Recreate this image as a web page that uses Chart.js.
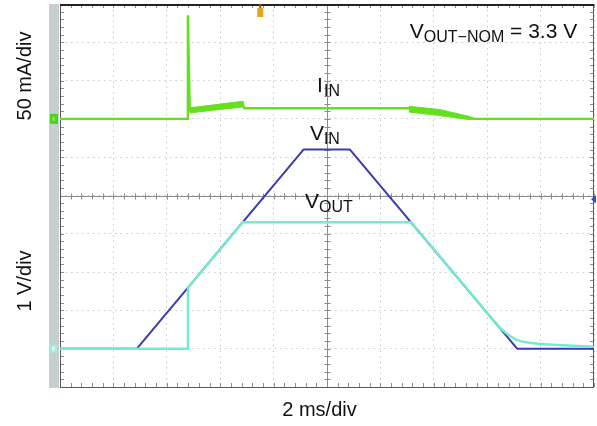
<!DOCTYPE html>
<html>
<head>
<meta charset="utf-8">
<title>Start-up and shut-down waveforms</title>
<style>
  html, body { margin: 0; padding: 0; background: #ffffff; }
  #wrap { width: 597px; height: 426px; position: relative; }
</style>
<script src="https://cdn.jsdelivr.net/npm/chart.js@4.4.1/dist/chart.umd.min.js"></script>
</head>
<body>
<div id="wrap"><canvas id="scope" width="597" height="426"></canvas></div>
<script>
// ---- Time base: 2 ms/div, 10 divisions ----
const TIME_MIN = 0, TIME_MAX = 20, TIME_PER_DIV = 2;
// ---- Voltage channels: 1 V/div, ground one division above the bottom ----
const V_MIN = -1, V_MAX = 9, V_PER_DIV = 1;
// ---- Current channel: 50 mA/div, ground three divisions below the top ----
const I_MIN = -350, I_MAX = 150;

// Input voltage ramp (ms, V)
const vinTime  = [0, 2.88, 9.12, 10.86, 17.12, 20];
const vinValue = [0, 0, 5.2, 5.2, 0, 0];

// Output voltage (ms, V)
const voutTime  = [0, 4.79, 4.79, 6.84, 13.16, 16.1, 16.3, 16.5, 16.7, 16.9, 17.1, 17.35, 17.6, 17.9, 18.3, 18.8, 19.4, 20];
const voutValue = [0, 0, 1.59, 3.3, 3.3, 0.85, 0.69, 0.53, 0.41, 0.31, 0.23, 0.18, 0.155, 0.13, 0.11, 0.09, 0.07, 0.055];

// Input current (ms, mA)
const iinTime  = [0, 4.76, 4.79, 4.86, 6.85, 6.9, 13.07, 15.5, 20];
const iinValue = [0, 0, 134, 11, 19, 14, 14, 0, 0];

// Input current ripple envelope while the converter ramps (ms, mA)
const rippleRiseTime  = [4.87, 6.85];
const rippleRiseUpper = [14.5, 23];
const rippleRiseLower = [8, 15.5];
const rippleFallTime  = [13.07, 14.2, 15.3, 15.5];
const rippleFallUpper = [16.5, 12.3, 3.5, 1];
const rippleFallLower = [9, 4.4, -0.8, -1];

// Scope reference markers
const triggerTime  = 7.5;   // ms
const triggerLevel = 3.9;   // V

// Trace annotations
const traceLabels = [
  { main: 'I', sub: 'IN',  t: 9.63, value: 35,   axis: 'yI' },
  { main: 'V', sub: 'IN',  t: 9.36, value: 5.45, axis: 'yV' },
  { main: 'V', sub: 'OUT', t: 9.18, value: 3.67, axis: 'yV' },
  { main: 'V', sub: 'OUT\u2212NOM', tail: ' = 3.3 V', t: 13.1, value: 8.11, axis: 'yV' }
];

const COLORS = {
  iin: '#64e01e',
  vin: '#3b3bae',
  vout: '#74ead0',
  grid: '#c8c8c8',
  cross: '#8c8c8c',
  frame: '#5a5a5a',
  strip: '#c6cfcf',
  text: '#111111'
};
const FONT = '"Liberation Sans", Arial, Helvetica, sans-serif';

const toPoints = (xs, ys) => xs.map((x, i) => ({ x, y: ys[i] }));
const toBand = (xs, up, lo) =>
  toPoints(xs, up).concat(toPoints(xs.slice().reverse(), lo.slice().reverse()));

// Graticule: grey channel strip, centre cross with minor ticks, frame ticks
const graticule = {
  id: 'graticule',
  beforeDatasetsDraw(chart) {
    const { ctx, chartArea: a, scales } = chart;
    const sx = scales.x, sy = scales.yV;
    ctx.save();
    ctx.fillStyle = COLORS.strip;
    ctx.fillRect(a.left - 11, a.top, 10, a.bottom - a.top + 1);

    const cx = Math.round(sx.getPixelForValue((TIME_MIN + TIME_MAX) / 2)) + 0.5;
    const cy = Math.round(sy.getPixelForValue((V_MIN + V_MAX) / 2)) + 0.5;
    ctx.strokeStyle = COLORS.cross;
    ctx.lineWidth = 1;
    ctx.beginPath();
    ctx.moveTo(a.left, cy); ctx.lineTo(a.right, cy);
    ctx.moveTo(cx, a.top); ctx.lineTo(cx, a.bottom);
    const nx = Math.round((TIME_MAX - TIME_MIN) / TIME_PER_DIV * 5);
    for (let i = 0; i <= nx; i++) {
      const px = Math.round(sx.getPixelForValue(TIME_MIN + i * TIME_PER_DIV / 5)) + 0.5;
      ctx.moveTo(px, cy - 3); ctx.lineTo(px, cy + 3);
      ctx.moveTo(px, a.top); ctx.lineTo(px, a.top + 4);
      ctx.moveTo(px, a.bottom); ctx.lineTo(px, a.bottom - 4);
    }
    const ny = Math.round((V_MAX - V_MIN) / V_PER_DIV * 5);
    for (let i = 0; i <= ny; i++) {
      const py = Math.round(sy.getPixelForValue(V_MIN + i * V_PER_DIV / 5)) + 0.5;
      ctx.moveTo(cx - 3, py); ctx.lineTo(cx + 3, py);
      ctx.moveTo(a.left, py); ctx.lineTo(a.left + 4, py);
      ctx.moveTo(a.right, py); ctx.lineTo(a.right - 4, py);
    }
    ctx.stroke();

    ctx.strokeStyle = COLORS.frame;
    ctx.strokeRect(a.left + 0.5, a.top + 0.5, a.right - a.left - 1, a.bottom - a.top);
    ctx.strokeStyle = '#222222';
    ctx.lineWidth = 2;
    ctx.beginPath();
    ctx.moveTo(a.left, a.top + 1); ctx.lineTo(a.right, a.top + 1);
    ctx.stroke();
    ctx.restore();
  }
};

// Channel ground markers, trigger markers and trace annotations
const scopeOverlay = {
  id: 'scopeOverlay',
  afterDatasetsDraw(chart) {
    const { ctx, chartArea: a, scales } = chart;
    ctx.save();
    // current channel ground
    const gI = scales.yI.getPixelForValue(0);
    ctx.fillStyle = '#4cd418';
    ctx.fillRect(a.left - 10, gI - 5, 8, 10);
    ctx.fillStyle = '#7ee25a';
    ctx.fillRect(a.left - 8, gI - 2, 3, 4);
    // voltage channel ground
    const gV = scales.yV.getPixelForValue(0);
    ctx.fillStyle = '#a4eed6';
    ctx.fillRect(a.left - 10, gV - 4, 7, 8);
    ctx.fillStyle = '#d4f8ec';
    ctx.fillRect(a.left - 8, gV - 2, 3, 4);
    // trigger position
    const tx = scales.x.getPixelForValue(triggerTime);
    ctx.fillStyle = '#7a5a10';
    ctx.fillRect(tx - 1, a.top, 2, 4);
    ctx.fillStyle = '#e8a21c';
    ctx.fillRect(tx - 3, a.top + 4, 6, 9);
    // trigger level
    const ty = scales.yV.getPixelForValue(triggerLevel);
    ctx.fillStyle = '#2d4fd0';
    ctx.beginPath();
    ctx.moveTo(a.right - 3, ty);
    ctx.lineTo(a.right + 2, ty - 4);
    ctx.lineTo(a.right + 2, ty + 4);
    ctx.closePath();
    ctx.fill();

    // annotations
    ctx.fillStyle = COLORS.text;
    ctx.textBaseline = 'alphabetic';
    ctx.textAlign = 'left';
    for (const lb of traceLabels) {
      let x = scales.x.getPixelForValue(lb.t);
      const y = scales[lb.axis].getPixelForValue(lb.value);
      ctx.font = '21px ' + FONT;
      ctx.fillText(lb.main, x, y);
      x += ctx.measureText(lb.main).width + (lb.main === 'I' ? 1 : 0);
      ctx.font = '16px ' + FONT;
      ctx.fillText(lb.sub, x, y + 4);
      x += ctx.measureText(lb.sub).width;
      if (lb.tail) {
        ctx.font = '21px ' + FONT;
        ctx.fillText(lb.tail, x, y);
      }
    }
    ctx.restore();
  }
};

const titleFont = { family: FONT, size: 20 };
const noGrid = { display: false, drawTicks: false };
const noBorder = { display: false };

new Chart(document.getElementById('scope'), {
  type: 'line',
  data: {
    datasets: [
      { label: 'VOUT', data: toPoints(voutTime, voutValue), yAxisID: 'yV',
        borderColor: COLORS.vout, borderWidth: 2.4, order: 1 },
      { label: 'VIN', data: toPoints(vinTime, vinValue), yAxisID: 'yV',
        borderColor: COLORS.vin, borderWidth: 2, order: 2 },
      { label: 'IIN', data: toPoints(iinTime, iinValue), yAxisID: 'yI',
        borderColor: COLORS.iin, borderWidth: 2.4, order: 3 },
      { label: 'IIN ripple (rise)', data: toBand(rippleRiseTime, rippleRiseUpper, rippleRiseLower),
        yAxisID: 'yI', borderColor: COLORS.iin, borderWidth: 1, backgroundColor: COLORS.iin,
        fill: 'shape', order: 4 },
      { label: 'IIN ripple (fall)', data: toBand(rippleFallTime, rippleFallUpper, rippleFallLower),
        yAxisID: 'yI', borderColor: COLORS.iin, borderWidth: 1, backgroundColor: COLORS.iin,
        fill: 'shape', order: 4 }
    ]
  },
  options: {
    responsive: false,
    maintainAspectRatio: false,
    devicePixelRatio: 1,
    animation: false,
    events: [],
    layout: { padding: { left: 9, right: 3, top: 4, bottom: 0 } },
    elements: {
      point: { radius: 0, hoverRadius: 0 },
      line: { tension: 0, borderJoinStyle: 'round', borderCapStyle: 'round' }
    },
    plugins: { legend: { display: false }, tooltip: { enabled: false } },
    scales: {
      x: {
        type: 'linear', position: 'bottom', min: TIME_MIN, max: TIME_MAX,
        ticks: { display: false, stepSize: TIME_PER_DIV },
        grid: { color: COLORS.grid, lineWidth: 1, drawTicks: false, borderDash: [1.5, 4] },
        border: { display: false, dash: [1.5, 4] }
      },
      yV: {
        type: 'linear', position: 'left', min: V_MIN, max: V_MAX,
        ticks: { display: false, stepSize: V_PER_DIV },
        grid: { color: COLORS.grid, lineWidth: 1, drawTicks: false, borderDash: [1.5, 4] },
        border: { display: false, dash: [1.5, 4] }
      },
      yI: { type: 'linear', position: 'left', min: I_MIN, max: I_MAX, display: false },
      titleI: {
        type: 'linear', position: 'left', stack: 'titles', stackWeight: 144, weight: 3,
        min: 0, max: 1, ticks: { display: false }, grid: noGrid, border: noBorder,
        title: { display: true, text: '50 mA/div', color: COLORS.text, font: titleFont,
                 padding: { top: 4, bottom: 23 } }
      },
      titleGap: {
        type: 'linear', position: 'left', stack: 'titles', stackWeight: 27, weight: 2,
        min: 0, max: 1, ticks: { display: false }, grid: noGrid, border: noBorder
      },
      titleV: {
        type: 'linear', position: 'left', stack: 'titles', stackWeight: 212, weight: 1,
        min: 0, max: 1, ticks: { display: false }, grid: noGrid, border: noBorder,
        title: { display: true, text: '1 V/div', color: COLORS.text, font: titleFont,
                 padding: { top: 4, bottom: 23 } }
      },
      titleT: {
        type: 'linear', position: 'bottom', stack: 'timeTitle', stackWeight: 519, weight: 1,
        min: 0, max: 1, ticks: { display: false }, grid: noGrid, border: noBorder,
        title: { display: true, text: '2 ms/div', color: COLORS.text, font: titleFont,
                 padding: { top: 11, bottom: 4 } }
      },
      titleTGap: {
        type: 'linear', position: 'bottom', stack: 'timeTitle', stackWeight: 15, weight: 2,
        min: 0, max: 1, ticks: { display: false }, grid: noGrid, border: noBorder
      }
    }
  },
  plugins: [graticule, scopeOverlay]
});
</script>
</body>
</html>
